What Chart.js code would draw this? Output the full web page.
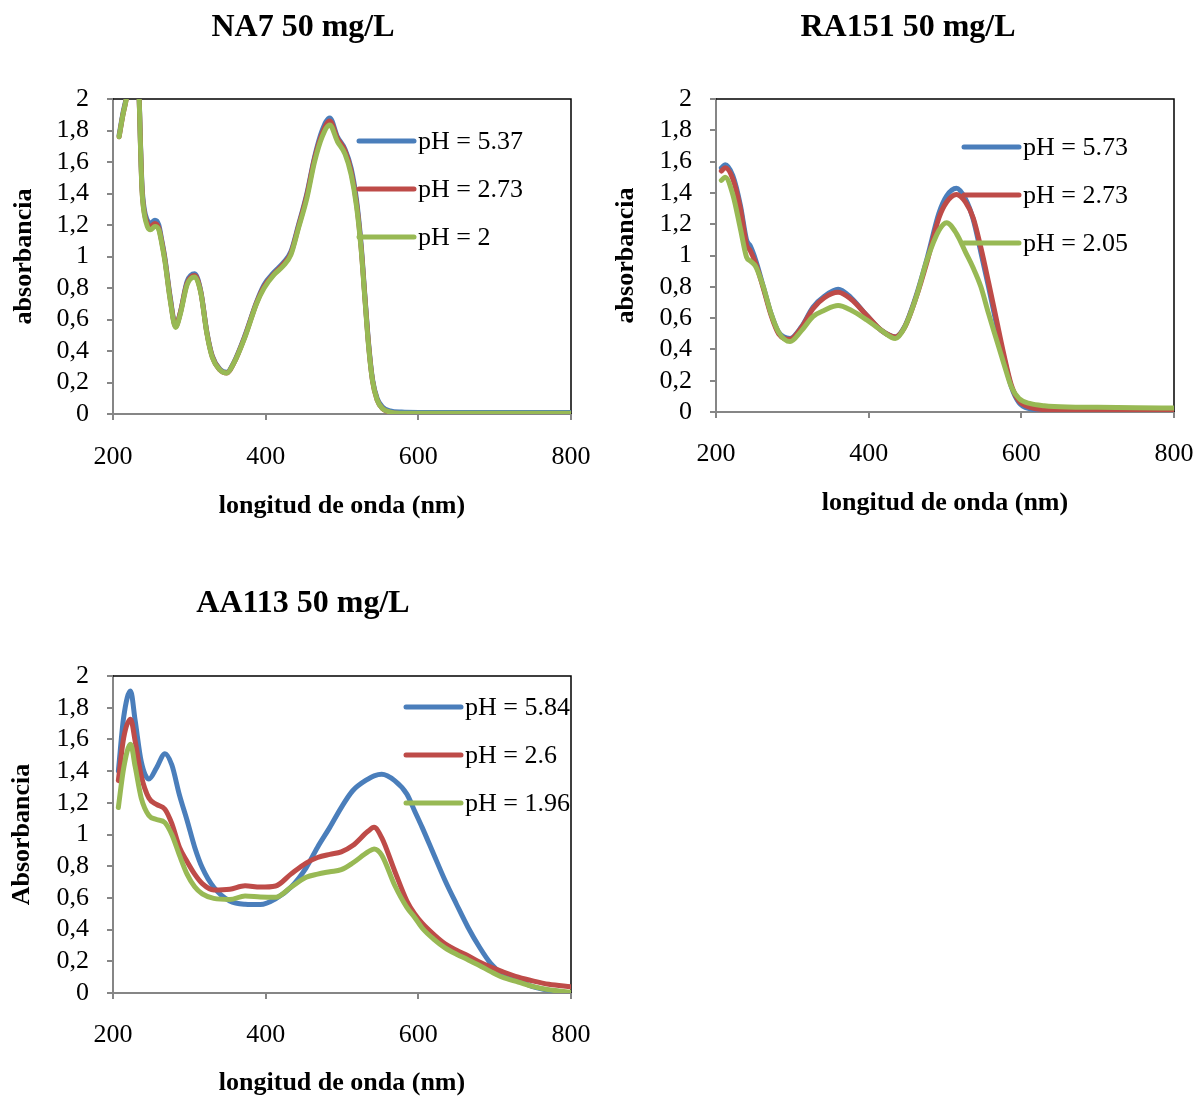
<!DOCTYPE html>
<html>
<head>
<meta charset="utf-8">
<script src="https://cdn.jsdelivr.net/npm/chart.js@4.4.1/dist/chart.umd.min.js"></script>
<style>
  html, body { margin: 0; padding: 0; background: #fff; overflow: hidden; }
  body { width: 1197px; height: 1097px; position: relative; }
  .panel { position: absolute; }
</style>
</head>
<body>
<div class="panel" style="left:0;top:0;width:600px;height:530px"><canvas id="na7"></canvas></div>
<div class="panel" style="left:600px;top:0;width:597px;height:530px"><canvas id="ra151"></canvas></div>
<div class="panel" style="left:0;top:560px;width:600px;height:540px"><canvas id="aa113"></canvas></div>
<script>
  // NA7 50 mg/L
  const na7Wl = [208, 213, 218, 224, 230, 234, 236, 238, 241, 245, 249, 255, 260, 264, 268, 275, 282, 288, 297, 307, 315, 323, 330, 340, 349, 358, 373, 388, 398, 411, 423, 433, 443, 454, 464, 474, 484, 494, 504, 512, 519, 525, 530, 535, 540, 546, 553, 563, 578, 600, 650, 700, 750, 800];
  const na7Blue = [1.77, 1.91, 2.03, 2.3, 2.3, 2.06, 1.72, 1.45, 1.30, 1.23, 1.21, 1.23, 1.20, 1.10, 0.99, 0.74, 0.56, 0.64, 0.84, 0.89, 0.78, 0.52, 0.37, 0.285, 0.265, 0.325, 0.50, 0.71, 0.82, 0.90, 0.96, 1.03, 1.20, 1.40, 1.63, 1.80, 1.88, 1.76, 1.68, 1.56, 1.36, 1.08, 0.75, 0.44, 0.22, 0.10, 0.045, 0.02, 0.012, 0.01, 0.01, 0.01, 0.01, 0.01];
  const na7Red = [1.76, 1.90, 2.02, 2.3, 2.3, 2.05, 1.71, 1.43, 1.28, 1.21, 1.19, 1.21, 1.18, 1.09, 0.98, 0.73, 0.555, 0.64, 0.83, 0.88, 0.775, 0.515, 0.365, 0.28, 0.26, 0.32, 0.495, 0.705, 0.81, 0.89, 0.95, 1.02, 1.19, 1.39, 1.62, 1.78, 1.86, 1.75, 1.67, 1.54, 1.34, 1.06, 0.74, 0.43, 0.21, 0.09, 0.035, 0.01, 0.003, 0.002, 0.002, 0.002, 0.002, 0.002];
  const na7Green = [1.76, 1.90, 2.02, 2.3, 2.3, 2.05, 1.70, 1.42, 1.27, 1.19, 1.17, 1.19, 1.17, 1.08, 0.97, 0.72, 0.55, 0.63, 0.82, 0.87, 0.77, 0.51, 0.36, 0.28, 0.26, 0.32, 0.49, 0.70, 0.80, 0.885, 0.94, 1.01, 1.18, 1.37, 1.60, 1.76, 1.835, 1.73, 1.65, 1.52, 1.32, 1.05, 0.73, 0.42, 0.21, 0.09, 0.035, 0.012, 0.005, 0.004, 0.004, 0.004, 0.004, 0.004];

  // RA151 50 mg/L
  const ra151Wl = [207, 212, 222, 232, 240, 245, 252, 262, 272, 282, 297, 312, 327, 342, 360, 377, 397, 417, 435, 447, 462, 477, 492, 502, 515, 527, 537, 547, 557, 567, 577, 587, 597, 612, 630, 660, 700, 750, 800];
  const ra151Blue = [1.56, 1.58, 1.51, 1.32, 1.10, 1.06, 0.97, 0.80, 0.63, 0.51, 0.47, 0.545, 0.67, 0.74, 0.785, 0.73, 0.62, 0.52, 0.48, 0.545, 0.74, 0.99, 1.27, 1.38, 1.43, 1.36, 1.23, 1.02, 0.80, 0.57, 0.35, 0.16, 0.06, 0.02, 0.01, 0.005, 0.005, 0.003, 0.003];
  const ra151Red = [1.54, 1.56, 1.49, 1.30, 1.07, 1.03, 0.95, 0.79, 0.62, 0.50, 0.465, 0.54, 0.66, 0.73, 0.765, 0.72, 0.62, 0.52, 0.48, 0.54, 0.73, 0.97, 1.24, 1.34, 1.39, 1.34, 1.24, 1.05, 0.83, 0.60, 0.37, 0.17, 0.07, 0.03, 0.015, 0.012, 0.012, 0.012, 0.012];
  const ra151Green = [1.48, 1.50, 1.39, 1.17, 0.99, 0.965, 0.93, 0.80, 0.63, 0.51, 0.45, 0.52, 0.61, 0.65, 0.68, 0.65, 0.59, 0.52, 0.47, 0.54, 0.73, 0.98, 1.16, 1.21, 1.14, 1.02, 0.92, 0.80, 0.63, 0.47, 0.31, 0.16, 0.086, 0.053, 0.04, 0.032, 0.03, 0.027, 0.025];

  // AA113 50 mg/L
  const aa113Wl = [207, 214, 223, 229, 237, 247, 257, 268, 277, 287, 297, 307, 317, 332, 353, 373, 393, 413, 433, 453, 468, 484, 499, 514, 534, 542, 552, 569, 585, 595, 605, 620, 635, 650, 665, 680, 695, 710, 731, 751, 771, 800];
  const aa113Blue = [1.40, 1.74, 1.905, 1.72, 1.46, 1.35, 1.42, 1.51, 1.44, 1.25, 1.09, 0.92, 0.79, 0.667, 0.58, 0.56, 0.558, 0.594, 0.667, 0.79, 0.92, 1.045, 1.17, 1.276, 1.35, 1.37, 1.38, 1.34, 1.255, 1.15, 1.045, 0.877, 0.71, 0.56, 0.415, 0.29, 0.185, 0.12, 0.08, 0.038, 0.017, 0.0];
  const aa113Red = [1.34, 1.61, 1.727, 1.59, 1.37, 1.23, 1.19, 1.16, 1.07, 0.92, 0.83, 0.75, 0.69, 0.65, 0.655, 0.677, 0.668, 0.675, 0.75, 0.82, 0.855, 0.875, 0.89, 0.93, 1.02, 1.045, 0.98, 0.77, 0.58, 0.50, 0.44, 0.37, 0.31, 0.27, 0.235, 0.195, 0.163, 0.135, 0.10, 0.075, 0.055, 0.04];
  const aa113Green = [1.17, 1.42, 1.57, 1.43, 1.23, 1.12, 1.095, 1.075, 1.0, 0.87, 0.75, 0.67, 0.625, 0.597, 0.59, 0.612, 0.606, 0.604, 0.667, 0.73, 0.75, 0.765, 0.778, 0.82, 0.89, 0.909, 0.87, 0.68, 0.54, 0.478, 0.41, 0.34, 0.285, 0.245, 0.21, 0.174, 0.135, 0.10, 0.069, 0.04, 0.02, 0.005];

  const xTicks = [200, 400, 600, 800];
  const yTickStep = 0.2;

  const BLUE = '#4A7EBB';
  const RED = '#BE4B48';
  const GREEN = '#98B954';
  const AXIS_GREY = '#868686';
  const SERIF = '"Liberation Serif", "Times New Roman", serif';

  Chart.defaults.font.family = SERIF;
  Chart.defaults.color = '#000';

  const toPoints = (xs, ys) => xs.map((x, i) => ({ x: x, y: ys[i] }));

  // frame on top/right, panel title and the in-plot legend
  const panelDecor = {
    id: 'panelDecor',
    beforeDatasetsDraw(chart) {
      const { ctx, chartArea: a } = chart;
      ctx.save();
      ctx.strokeStyle = '#000';
      ctx.lineWidth = 1.5;
      ctx.beginPath();
      ctx.moveTo(a.left, a.top);
      ctx.lineTo(a.right, a.top);
      ctx.lineTo(a.right, a.bottom);
      ctx.stroke();
      ctx.restore();
    },
    afterDraw(chart, args, opts) {
      const ctx = chart.ctx;
      ctx.save();
      ctx.fillStyle = '#000';
      ctx.textAlign = 'center';
      ctx.textBaseline = 'middle';
      ctx.font = 'bold 32px ' + SERIF;
      ctx.fillText(opts.title, opts.titleX, opts.titleY);

      ctx.textAlign = 'left';
      ctx.font = '26px ' + SERIF;
      ctx.lineCap = 'round';
      ctx.lineWidth = 5;
      chart.data.datasets.forEach((ds, i) => {
        const y = opts.legendY + i * 48;
        ctx.strokeStyle = ds.borderColor;
        ctx.beginPath();
        ctx.moveTo(opts.legendX, y);
        ctx.lineTo(opts.legendX + 55, y);
        ctx.stroke();
        ctx.fillText(ds.label, opts.legendX + 59, y + 1);
      });
      ctx.restore();
    }
  };

  const makeSeries = (label, color, xs, ys, order) => ({
    label: label,
    data: toPoints(xs, ys),
    borderColor: color,
    backgroundColor: color,
    borderWidth: 5,
    pointRadius: 0,
    fill: false,
    cubicInterpolationMode: 'monotone',
    borderCapStyle: 'round',
    borderJoinStyle: 'round',
    order: order
  });

  const makePanel = (id, p) => new Chart(document.getElementById(id), {
    type: 'line',
    data: { datasets: p.datasets },
    options: {
      responsive: true,
      maintainAspectRatio: false,
      animation: false,
      layout: { padding: { top: p.padTop, right: p.padRight, left: 0, bottom: 0 } },
      plugins: {
        legend: { display: false },
        title: { display: false },
        tooltip: { enabled: false },
        panelDecor: p.decor
      },
      scales: {
        x: {
          type: 'linear',
          min: xTicks[0],
          max: xTicks[xTicks.length - 1],
          afterBuildTicks: (scale) => { scale.ticks = xTicks.map(v => ({ value: v })); },
          ticks: { font: { size: 26 }, color: '#000', padding: p.xTickPad, maxRotation: 0, autoSkip: false },
          grid: { drawOnChartArea: false, tickLength: 6, color: AXIS_GREY, lineWidth: 2 },
          border: { color: AXIS_GREY, width: 2 },
          title: {
            display: true,
            text: 'longitud de onda (nm)',
            font: { size: 26, weight: 'bold' },
            padding: { top: 0, bottom: p.xTitlePad }
          },
          afterFit: (scale) => {
            scale.height = p.xHeight;
            scale.paddingLeft = 0;
            scale.paddingRight = 0;
          }
        },
        y: {
          min: 0,
          max: 2,
          ticks: {
            stepSize: yTickStep,
            autoSkip: false,
            font: { size: 26 },
            color: '#000',
            padding: 18,
            callback: (v) => String(Math.round(v * 10) / 10).replace('.', ',')
          },
          grid: { drawOnChartArea: false, tickLength: 6, color: AXIS_GREY, lineWidth: 2 },
          border: { color: AXIS_GREY, width: 2 },
          title: {
            display: true,
            text: p.yTitle,
            font: { size: 26, weight: 'bold' },
            padding: { top: p.yTitlePad, bottom: 0 }
          },
          afterFit: (scale) => {
            scale.width = p.yWidth;
            scale.paddingTop = 0;
            scale.paddingBottom = 0;
          }
        }
      }
    },
    plugins: [panelDecor]
  });

  makePanel('na7', {
    datasets: [
      makeSeries('pH = 5.37', BLUE, na7Wl, na7Blue, 2),
      makeSeries('pH = 2.73', RED, na7Wl, na7Red, 1),
      makeSeries('pH = 2', GREEN, na7Wl, na7Green, 0)
    ],
    padTop: 99, padRight: 29, yWidth: 113, xHeight: 116,
    xTickPad: 22, xTitlePad: 8, yTitlePad: 9, yTitle: 'absorbancia',
    decor: { title: 'NA7 50 mg/L', titleX: 303, titleY: 28, legendX: 359, legendY: 141 }
  });

  makePanel('ra151', {
    datasets: [
      makeSeries('pH = 5.73', BLUE, ra151Wl, ra151Blue, 2),
      makeSeries('pH = 2.73', RED, ra151Wl, ra151Red, 1),
      makeSeries('pH = 2.05', GREEN, ra151Wl, ra151Green, 0)
    ],
    padTop: 99, padRight: 23, yWidth: 116, xHeight: 118,
    xTickPad: 21, xTitlePad: 11, yTitlePad: 11, yTitle: 'absorbancia',
    decor: { title: 'RA151 50 mg/L', titleX: 308, titleY: 28, legendX: 364, legendY: 147 }
  });

  makePanel('aa113', {
    datasets: [
      makeSeries('pH = 5.84', BLUE, aa113Wl, aa113Blue, 2),
      makeSeries('pH = 2.6', RED, aa113Wl, aa113Red, 1),
      makeSeries('pH = 1.96', GREEN, aa113Wl, aa113Green, 0)
    ],
    padTop: 116, padRight: 29, yWidth: 113, xHeight: 107,
    xTickPad: 21, xTitlePad: 1, yTitlePad: 7, yTitle: 'Absorbancia',
    decor: { title: 'AA113 50 mg/L', titleX: 303, titleY: 44, legendX: 406, legendY: 147 }
  });
</script>
</body>
</html>
